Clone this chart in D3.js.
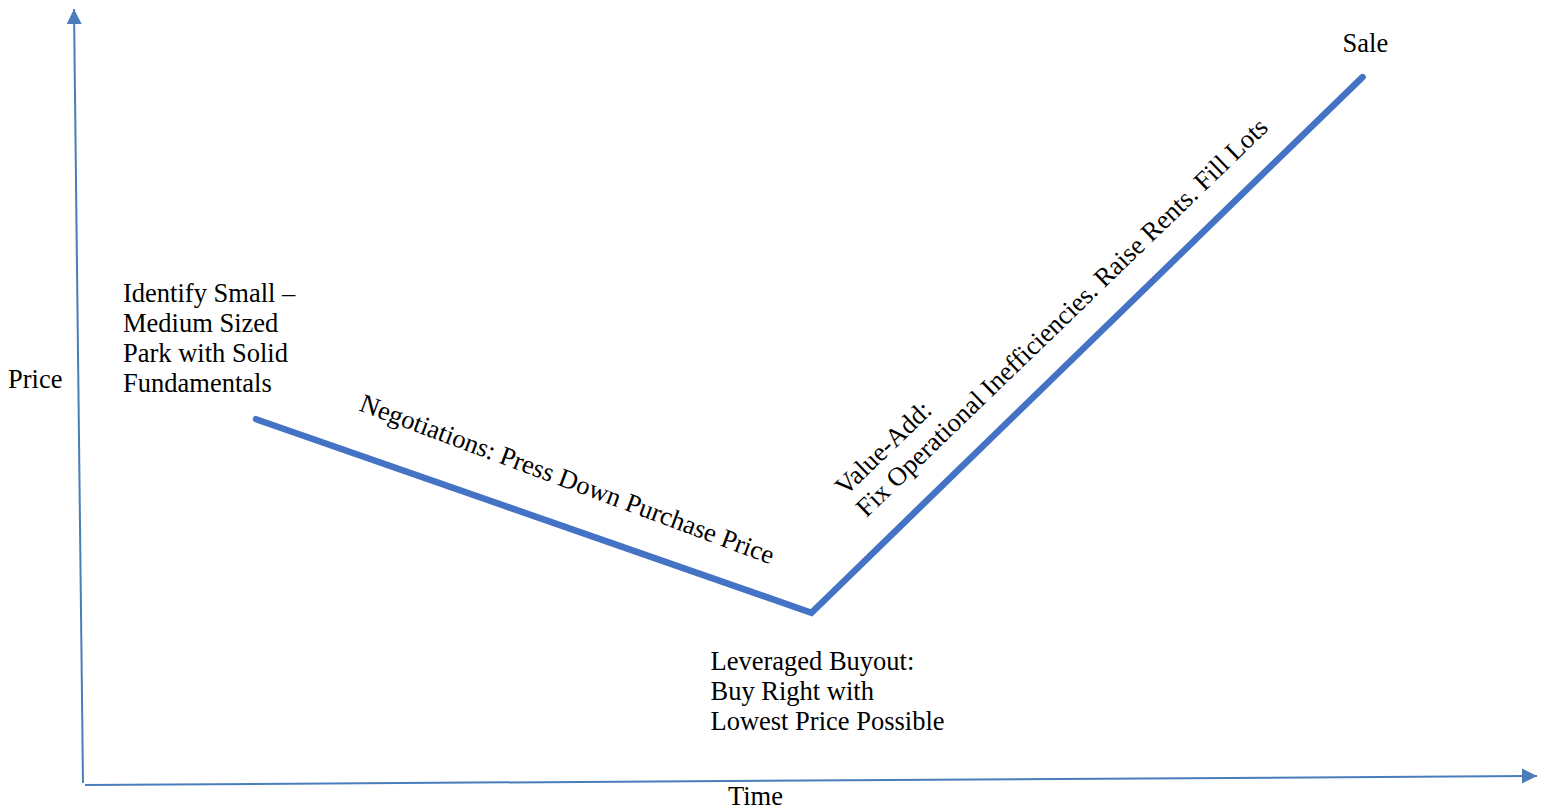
<!DOCTYPE html>
<html>
<head>
<meta charset="utf-8">
<script src="https://cdn.jsdelivr.net/npm/d3@7"></script>
<style>
  html, body { margin: 0; padding: 0; background: #fff; }
  svg { display: block; }
  text { font-family: "Liberation Serif", "Times New Roman", serif; fill: #000; }
</style>
</head>
<body>
<svg id="chart" width="1544" height="810"></svg>
<script>
// ---- data ----
const stages = ["Identify", "Buyout", "Sale"];
const timeValues = [11.9, 50.1, 88.0];
const priceValues = [47.0, 22.0, 91.2];
const axisTitles = { x: "Time", y: "Price" };
const identifyLines = ["Identify Small \u2013", "Medium Sized", "Park with Solid", "Fundamentals"];
const buyoutLines = ["Leveraged Buyout:", "Buy Right with", "Lowest Price Possible"];
const saleLines = ["Sale"];
const negotiationLines = ["Negotiations: Press Down Purchase Price"];
const valueAddLines = ["Value-Add:", "Fix Operational Inefficiencies. Raise Rents. Fill Lots"];

// ---- layout ----
const W = 1544, H = 810;
const svg = d3.select("#chart");
const x = d3.scaleLinear().domain([0, 100]).range([83, 1537]);
const y = d3.scaleLinear().domain([0, 100]).range([783, 9]);
const axisColor = "#4a7ebb";
const lineColor = "#4472c4";
const fontSize = 26.5;
const lh = 30;

const defs = svg.append("defs");
defs.append("marker")
  .attr("id", "arrow")
  .attr("viewBox", "0 0 10 10")
  .attr("refX", 10).attr("refY", 5)
  .attr("markerUnits", "userSpaceOnUse")
  .attr("markerWidth", 15).attr("markerHeight", 16)
  .attr("orient", "auto")
  .append("path")
  .attr("d", "M0,0 L10,5 L0,10 Z")
  .attr("fill", axisColor);

// axes (slightly skewed, as in the reference)
svg.append("line")
  .attr("x1", x(0)).attr("y1", y(0))
  .attr("x2", x(0) - 9).attr("y2", y(100))
  .attr("stroke", axisColor).attr("stroke-width", 2)
  .attr("marker-end", "url(#arrow)");
svg.append("line")
  .attr("x1", x(0) + 2).attr("y1", y(0) + 2)
  .attr("x2", x(100)).attr("y2", y(0) - 7)
  .attr("stroke", axisColor).attr("stroke-width", 2)
  .attr("marker-end", "url(#arrow)");

// main path
const pts = stages.map((s, i) => ({ stage: s, t: timeValues[i], p: priceValues[i] }));
const lineGen = d3.line().x(d => x(d.t)).y(d => y(d.p));
svg.append("path")
  .datum(pts)
  .attr("d", lineGen)
  .attr("fill", "none")
  .attr("stroke", lineColor)
  .attr("stroke-width", 6.5)
  .attr("stroke-linecap", "round")
  .attr("stroke-linejoin", "miter");

function block(lines, px, py, rot) {
  const g = svg.append("g")
    .attr("transform", `translate(${px},${py}) rotate(${rot || 0})`);
  g.selectAll("text").data(lines).join("text")
    .attr("x", 0).attr("y", (d, i) => i * lh)
    .attr("font-size", fontSize)
    .text(d => d);
  return g;
}

const P = pts.map(d => [x(d.t), y(d.p)]);
block(identifyLines, P[0][0] - 133, P[0][1] - 117);
block(buyoutLines, P[1][0] - 101, P[1][1] + 57);
block(saleLines, P[2][0] - 20, P[2][1] - 25);
block(negotiationLines, P[0][0] + 102, P[0][1] - 9, 20.5);
block(valueAddLines, P[1][0] + 34, P[1][1] - 116, -44);

// axis titles
svg.append("text").attr("x", 8).attr("y", 388).attr("font-size", fontSize).text(axisTitles.y);
svg.append("text").attr("x", 728).attr("y", 805).attr("font-size", fontSize).text(axisTitles.x);
</script>
</body>
</html>
